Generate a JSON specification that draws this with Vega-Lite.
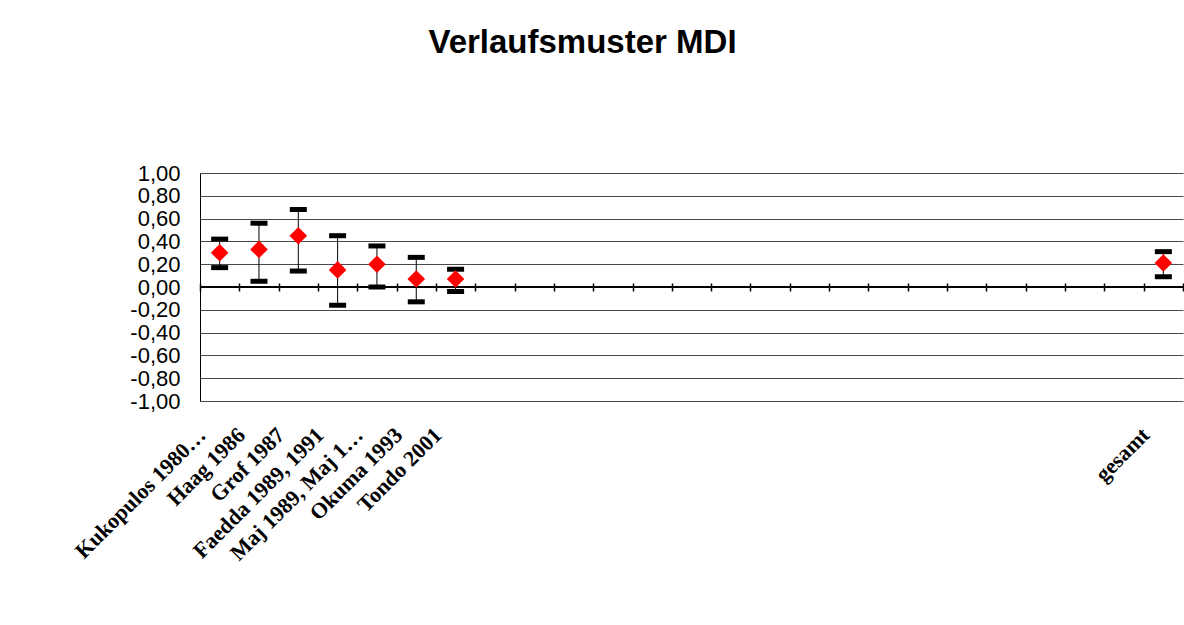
{
  "$schema": "https://vega.github.io/schema/vega-lite/v6.json",
  "width": 983,
  "height": 228,
  "autosize": {"type": "none"},
  "padding": {"left": 200, "top": 173, "right": 1, "bottom": 224},
  "background": "white",
  "config": {
    "locale": {"number": {"decimal": ",", "thousands": ".", "grouping": [3], "currency": ["", " €"], "minus": "-"}},
    "view": {"stroke": null}
  },
  "title": {"text": "Verlaufsmuster MDI", "font": "Liberation Sans", "fontSize": 33, "fontWeight": "bold", "color": "black", "anchor": "middle", "dx": -109, "offset": 76, "baseline": "alphabetic"},
  "data": {"values": [
    {"study": "Kukopulos 1980a,b", "mean": 0.30, "lower": 0.17, "upper": 0.42},
    {"study": "Haag 1986", "mean": 0.33, "lower": 0.05, "upper": 0.56},
    {"study": "Grof 1987", "mean": 0.45, "lower": 0.14, "upper": 0.68},
    {"study": "Faedda 1989, 1991", "mean": 0.15, "lower": -0.16, "upper": 0.45},
    {"study": "Maj 1989, Maj 1990", "mean": 0.20, "lower": 0.00, "upper": 0.36},
    {"study": "Okuma 1993", "mean": 0.07, "lower": -0.13, "upper": 0.26},
    {"study": "Tondo 2001", "mean": 0.07, "lower": -0.04, "upper": 0.155},
    {"study": "gesamt", "mean": 0.21, "lower": 0.09, "upper": 0.31}
  ]},
  "layer": [
    {
      "mark": {"type": "rule", "color": "black", "strokeWidth": 1},
      "encoding": {
        "x": {
          "field": "study", "type": "nominal", "title": null,
          "scale": {"domain": ["Kukopulos 1980a,b", "Haag 1986", "Grof 1987", "Faedda 1989, 1991", "Maj 1989, Maj 1990", "Okuma 1993", "Tondo 2001", "#1", "#2", "#3", "#4", "#5", "#6", "#7", "#8", "#9", "#10", "#11", "#12", "#13", "#14", "#15", "#16", "#17", "gesamt"], "paddingInner": 0, "paddingOuter": 0},
          "axis": {
            "orient": "bottom", "offset": -118, "domain": false, "grid": false,
            "ticks": true, "tickBand": "extent", "tickSize": 8, "tickColor": "black", "tickWidth": 1.5,
            "labelAngle": -45, "labelAlign": "right", "labelBaseline": "middle",
            "labelPadding": 140, "labelOffset": -18,
            "labelFont": "Liberation Serif", "labelFontWeight": "bold", "labelFontSize": 22, "labelColor": "black",
            "labelExpr": "test(/^#/, '' + datum.label) ? '' : datum.label",
            "labelOverlap": false, "labelBound": false, "labelFlush": false
          }
        },
        "y": {"field": "lower", "type": "quantitative",
          "scale": {"domain": [-1, 1], "nice": false, "zero": false},
          "axis": {"title": null, "values": [-1, -0.8, -0.6, -0.4, -0.2, 0, 0.2, 0.4, 0.6, 0.8, 1], "tickCount": 11, "format": ".2f",
            "grid": true, "gridColor": "#4a4a4a", "gridWidth": 1, "ticks": false,
            "domain": true, "domainColor": "black", "domainWidth": 1,
            "labelOverlap": false, "labelBound": false, "labelFlush": false,
            "labelFont": "Liberation Sans", "labelFontSize": 22, "labelColor": "black", "labelPadding": 20}},
        "y2": {"field": "upper"}
      }
    },
    {
      "mark": {"type": "rule", "color": "black", "strokeWidth": 2},
      "encoding": {"y": {"datum": 0, "type": "quantitative"}}
    },
    {
      "mark": {"type": "tick", "color": "black", "size": 17, "thickness": 5, "opacity": 1},
      "encoding": {"x": {"field": "study", "type": "nominal"}, "y": {"field": "upper", "type": "quantitative"}}
    },
    {
      "mark": {"type": "tick", "color": "black", "size": 17, "thickness": 5, "opacity": 1},
      "encoding": {"x": {"field": "study", "type": "nominal"}, "y": {"field": "lower", "type": "quantitative"}}
    },
    {
      "mark": {"type": "point", "shape": "diamond", "filled": true, "color": "#ff0000", "size": 310, "opacity": 1},
      "encoding": {"x": {"field": "study", "type": "nominal"}, "y": {"field": "mean", "type": "quantitative"}}
    }
  ]
}
